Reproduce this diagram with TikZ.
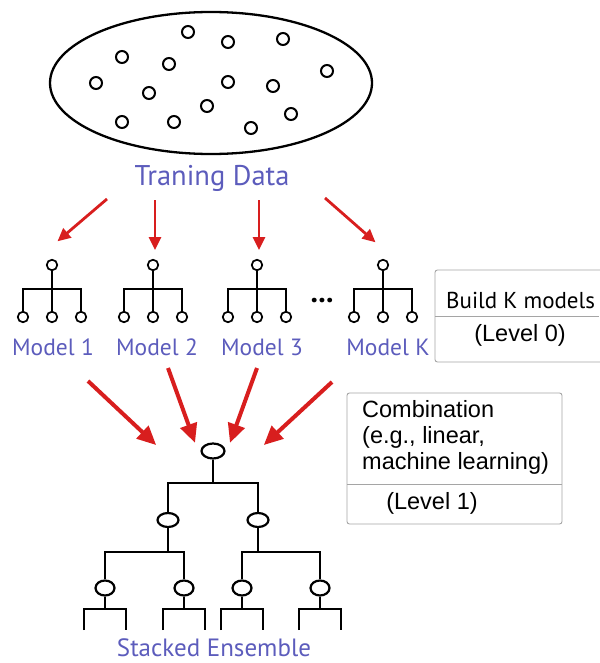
\documentclass[tikz,border=0pt]{standalone}
\usepackage{fontspec}
\setmainfont{Liberation Sans}
\newfontfamily\labelfont{PT Sans}
\usetikzlibrary{arrows.meta,shapes.geometric,calc}
\definecolor{arrowred}{RGB}{216,30,30}
\definecolor{labelblue}{RGB}{92,92,188}
\definecolor{boxgray}{RGB}{165,165,165}

\begin{document}
\begin{tikzpicture}[x=1pt,y=-1pt,
  sample/.style={circle,draw,line width=2pt,minimum size=12pt,inner sep=0pt},
  leaf/.style={circle,draw,line width=1.7pt,minimum size=10.5pt,inner sep=0pt},
  enode/.style={ellipse,draw,line width=2.2pt,minimum width=21pt,minimum height=14pt,inner sep=0pt},
  branch/.style={line width=1.9pt},
  fatbranch/.style={line width=2.4pt},
  thinarrow/.style={arrowred,line width=2.8pt,-{Triangle[length=13pt,width=12pt]}},
  fatarrow/.style={arrowred,line width=4pt,-{Triangle[length=19pt,width=17pt]}},
  tag/.style={text=labelblue,inner sep=0pt},
  infobox/.style={draw=boxgray,rounded corners=2.5pt,line width=0.9pt},
  boxtext/.style={inner sep=0pt,font=\fontsize{23.5}{26}\selectfont}
]
\useasboundingbox (0,0) rectangle (599,663);

% ---- training data cloud ----
\node[ellipse,draw,line width=2.3pt,minimum width=322pt,minimum height=142pt,inner sep=0pt] (data) at (211,83) {};
\foreach \n/\px/\py in {s1/188/32, s2/228/42, s3/283/39, s4/122/57, s5/169/64,
                        s6/327/71, s7/96/83, s8/228/82, s9/273/86, s10/149/93,
                        s11/207/106, s12/291/114, s13/122/122, s14/174/122, s15/251/128}
  \node[sample] (\n) at (\px,\py) {};
\node[tag,font=\labelfont\fontsize{28.5}{30}\selectfont] (datalabel) at (212,178) {Traning Data};

% ---- level 0 models ----
\foreach \i/\cx/\lx in {1/52/53, 2/153/157, 3/257/262, K/383/388} {
  \node[leaf] (m\i top) at (\cx,265) {};
  \node[leaf] (m\i a) at (\cx-29,317) {};
  \node[leaf] (m\i b) at (\cx,317) {};
  \node[leaf] (m\i c) at (\cx+29,317) {};
  \draw[branch] (m\i top) -- (m\i b);
  \draw[branch] (m\i a) -- ++(0,-28) -| (m\i c);
  \node[tag,font=\labelfont\fontsize{23.5}{26}\selectfont] (lab\i) at (\lx,347) {Model \i};
}
\node[font=\labelfont\fontsize{30}{32}\selectfont\bfseries,anchor=base,inner sep=0pt] (dots) at (322,302) {...};

% arrows from the data to each model
\coordinate (t1s) at (107,199); \coordinate (t1e) at (59,240);
\coordinate (t2s) at (155,200); \coordinate (t2e) at (155,248);
\coordinate (t3s) at (259,200); \coordinate (t3e) at (259,248);
\coordinate (t4s) at (325,198); \coordinate (t4e) at (374,241);
\foreach \k in {1,2,3,4}
  \draw[thinarrow,shorten >=-2pt] (t\k s) -- (t\k e);

% ---- level 0 box ----
\draw[infobox] (435,270) rectangle (606,362);
\draw[draw=boxgray,line width=0.9pt] (435,316) -- (599,316);
\node[inner sep=0pt,font=\labelfont\fontsize{23}{26}\selectfont,anchor=west] (build) at (446,300) {Build K models};
\node[boxtext] (lev0) at (520,335) {(Level 0)};

% ---- arrows into the stacked model ----
\coordinate (b1s) at (88,381);  \coordinate (b1e) at (154,443);
\coordinate (b2s) at (168,368); \coordinate (b2e) at (194,440);
\coordinate (b3s) at (257,368); \coordinate (b3e) at (231,440);
\coordinate (b4s) at (332,382); \coordinate (b4e) at (266,443);
\foreach \k in {1,2,3,4}
  \draw[fatarrow,shorten >=-3pt] (b\k s) -- (b\k e);

% ---- stacked ensemble tree ----
\node[enode,minimum width=23pt,minimum height=15pt] (root) at (213,451) {};
\node[enode] (na) at (168,520) {};
\node[enode] (nb) at (258,520) {};
\draw[fatbranch] (root) -- (213,483) coordinate (rbar);
\draw[fatbranch] (na) |- (rbar) -| (nb);

\foreach \n/\px in {la/105, lb/184, lc/242, ld/320}
  \node[enode,minimum width=19pt,minimum height=15pt] (\n) at (\px,588) {};
\draw[fatbranch] (na) -- (168,552) coordinate (abar);
\draw[fatbranch] (la) |- (abar) -| (lb);
\draw[fatbranch] (nb) -- (258,552) coordinate (bbar);
\draw[fatbranch] (lc) |- (bbar) -| (ld);

\foreach \n in {la,lb,lc,ld} {
  \draw[fatbranch] (\n) -- ($(\n)+(0,21)$) coordinate (\n bar);
  \draw[fatbranch] ($(\n bar)+(-21,21)$) -- ++(0,-21) -- ++(42,0) -- ++(0,21);
}
\node[tag,font=\labelfont\fontsize{25}{27}\selectfont] (stacklabel) at (214,648) {Stacked Ensemble};

% ---- level 1 box ----
\draw[infobox] (347,393) rectangle (562,524);
\draw[draw=boxgray,line width=0.9pt] (347,484) -- (562,484);
\node[boxtext,anchor=north west,align=left] (comb) at (362,400)
  {Combination\\(e.g., linear,\\machine learning)};
\node[boxtext] (lev1) at (432,503) {(Level 1)};
\end{tikzpicture}
\end{document}
